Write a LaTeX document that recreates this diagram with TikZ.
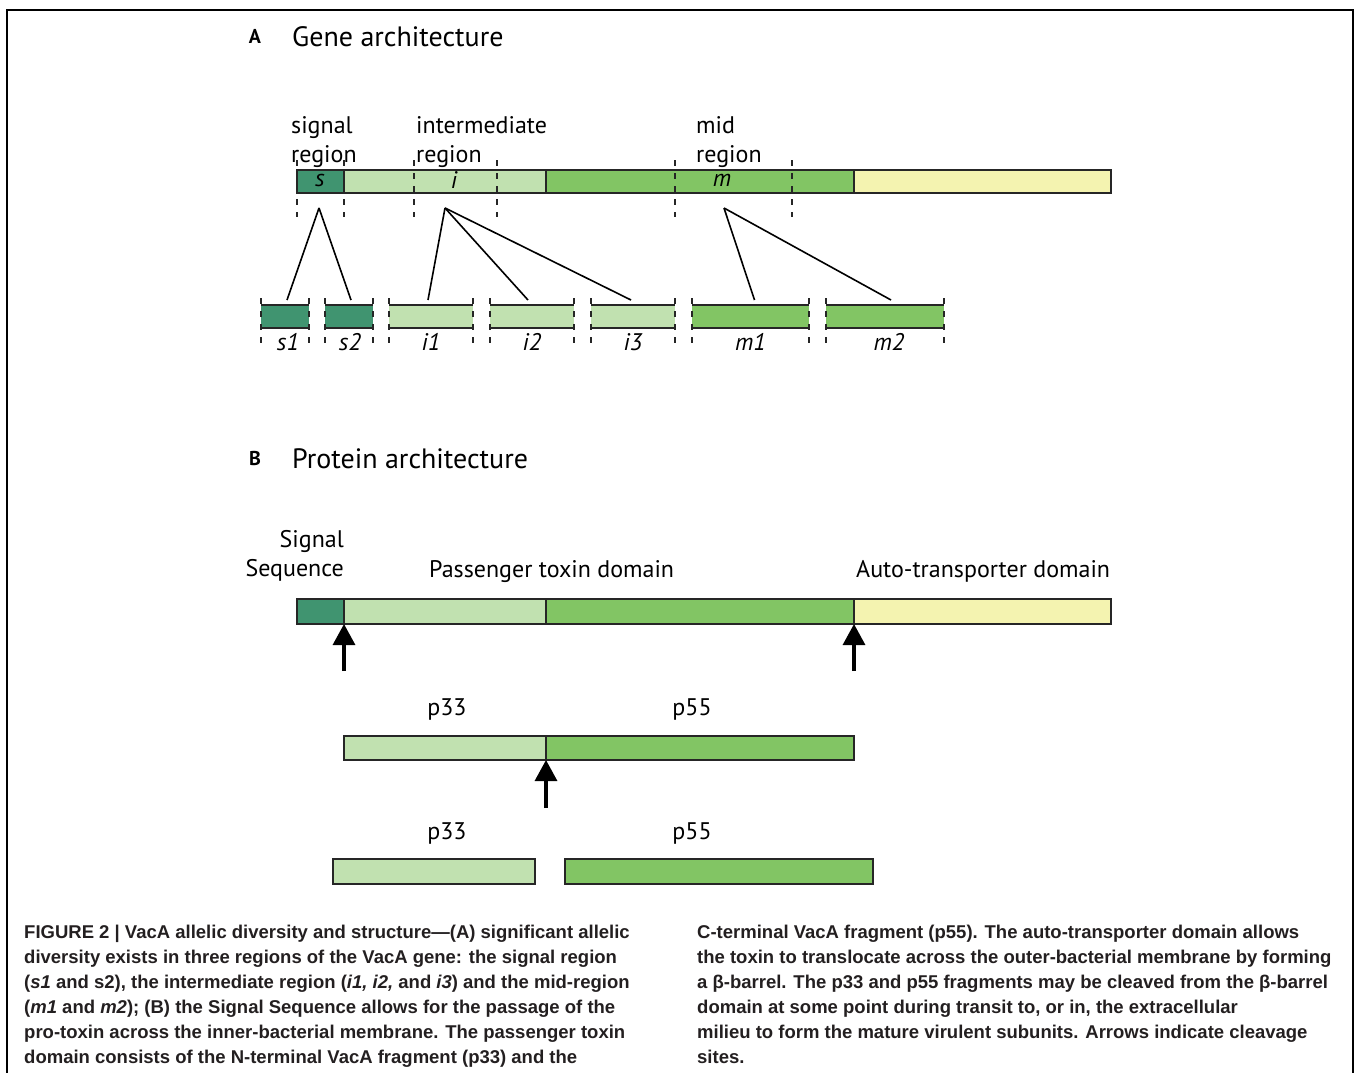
\documentclass[tikz,border=0pt]{standalone}
\usepackage{fontspec}
\setmainfont{PT Sans}
\newfontfamily\capfont{Liberation Sans}
\usetikzlibrary{arrows.meta,positioning}
\definecolor{sigcol}{HTML}{409470}
\definecolor{intcol}{HTML}{C1E1B0}
\definecolor{midcol}{HTML}{82C564}
\definecolor{autcol}{HTML}{F4F3B0}
\definecolor{capcol}{HTML}{231F20}

\begin{document}
\begin{tikzpicture}
		[x=1pt,y=-1pt,
		 bar/.style    = {draw=black!85, line width=1.6pt, shape=rectangle, minimum height=23pt, inner sep=0pt, outer sep=0pt},
		 allele/.style = {shape=rectangle, minimum height=23pt, inner sep=0pt, outer sep=0pt, anchor=west},
		 rim/.style    = {draw=black!85, line width=1.6pt},
		 cutline/.style= {draw=black!85, line width=1.6pt, dash pattern=on 6pt off 7pt},
		 fan/.style    = {draw=black, line width=1.6pt},
		 cleave/.style = {-{Triangle[width=22pt,length=21pt]}, line width=3.2pt},
		 head/.style   = {font=\fontsize{28}{32}\selectfont, inner sep=0pt},
		 tag/.style    = {font=\fontsize{20}{24}\selectfont\bfseries, inner sep=0pt},
		 lbl/.style    = {font=\fontsize{24}{29}\selectfont, inner sep=0pt, align=left},
		 glab/.style   = {font=\fontsize{24}{28}\selectfont\itshape, inner sep=0pt},
		 captxt/.style = {font=\capfont\bfseries\fontsize{18.5}{25}\selectfont, text=capcol, inner sep=0pt, align=left},
		]

	\useasboundingbox (0,0) rectangle (1356,1072);
	\draw[line width=1.6pt] (7,1080) -- (7,10) -- (1353,10) -- (1353,1080);

	% A: gene
	\node[tag]  (ta) at (255,36) {A};
	\node[head, anchor=west] (gene) at (292,37) {Gene architecture};

	\node[lbl, anchor=north west] (sigreg) at (291,116) {signal\\region};
	\node[lbl, anchor=north west] (intreg) at (416,116) {intermediate\\region};
	\node[lbl, anchor=north west] (midreg) at (696,116) {mid\\region};

	\node [bar, fill=sigcol, minimum width=47pt, anchor=west] (gs) at (297,181.5) {};
	\node [bar, fill=intcol, minimum width=202pt, right=0pt of gs] (gi) {};
	\node [bar, fill=midcol, minimum width=308pt, right=0pt of gi] (gm) {};
	\node [bar, fill=autcol, minimum width=257pt, right=0pt of gm] (ga) {};

	\draw[cutline] (297,160) -- (297,217);
	\draw[cutline] (344,160) -- (344,217);
	\draw[cutline] (414,160) -- (414,217);
	\draw[cutline] (497,160) -- (497,217);
	\draw[cutline] (675,160) -- (675,217);
	\draw[cutline] (792,160) -- (792,217);

	\node[glab] (ls) at (320,180) {s};
	\node[glab] (li) at (454,180) {i};
	\node[glab] (lm) at (722,180) {m};

	% alleles
	\node [allele, fill=sigcol, minimum width=48pt]  (s1) at (261,316.5) {};
	\node [allele, fill=sigcol, minimum width=48pt]  (s2) at (325,316.5) {};
	\node [allele, fill=intcol, minimum width=84pt]  (i1) at (389,316.5) {};
	\node [allele, fill=intcol, minimum width=84pt]  (i2) at (490,316.5) {};
	\node [allele, fill=intcol, minimum width=84pt]  (i3) at (591,316.5) {};
	\node [allele, fill=midcol, minimum width=117pt] (m1) at (692,316.5) {};
	\node [allele, fill=midcol, minimum width=118pt] (m2) at (826,316.5) {};

	\draw[rim] (s1.north west) -- (s1.north east) (s1.south west) -- (s1.south east);
	\draw[rim] (s2.north west) -- (s2.north east) (s2.south west) -- (s2.south east);
	\draw[rim] (i1.north west) -- (i1.north east) (i1.south west) -- (i1.south east);
	\draw[rim] (i2.north west) -- (i2.north east) (i2.south west) -- (i2.south east);
	\draw[rim] (i3.north west) -- (i3.north east) (i3.south west) -- (i3.south east);
	\draw[rim] (m1.north west) -- (m1.north east) (m1.south west) -- (m1.south east);
	\draw[rim] (m2.north west) -- (m2.north east) (m2.south west) -- (m2.south east);

	\draw[cutline] ([yshift=7pt]s1.north west) -- ([yshift=-16pt]s1.south west);
	\draw[cutline] ([yshift=7pt]s1.north east) -- ([yshift=-16pt]s1.south east);
	\draw[cutline] ([yshift=7pt]s2.north west) -- ([yshift=-16pt]s2.south west);
	\draw[cutline] ([yshift=7pt]s2.north east) -- ([yshift=-16pt]s2.south east);
	\draw[cutline] ([yshift=7pt]i1.north west) -- ([yshift=-16pt]i1.south west);
	\draw[cutline] ([yshift=7pt]i1.north east) -- ([yshift=-16pt]i1.south east);
	\draw[cutline] ([yshift=7pt]i2.north west) -- ([yshift=-16pt]i2.south west);
	\draw[cutline] ([yshift=7pt]i2.north east) -- ([yshift=-16pt]i2.south east);
	\draw[cutline] ([yshift=7pt]i3.north west) -- ([yshift=-16pt]i3.south west);
	\draw[cutline] ([yshift=7pt]i3.north east) -- ([yshift=-16pt]i3.south east);
	\draw[cutline] ([yshift=7pt]m1.north west) -- ([yshift=-16pt]m1.south west);
	\draw[cutline] ([yshift=7pt]m1.north east) -- ([yshift=-16pt]m1.south east);
	\draw[cutline] ([yshift=7pt]m2.north west) -- ([yshift=-16pt]m2.south west);
	\draw[cutline] ([yshift=7pt]m2.north east) -- ([yshift=-16pt]m2.south east);

	\node[glab, below=5pt of s1, xshift=3pt] (ls1) {s1};
	\node[glab, below=5pt of s2, xshift=1pt] (ls2) {s2};
	\node[glab, below=5pt of i1] (li1) {i1};
	\node[glab, below=5pt of i2] (li2) {i2};
	\node[glab, below=5pt of i3] (li3) {i3};
	\node[glab, below=5pt of m1] (lm1) {m1};
	\node[glab, below=5pt of m2, xshift=4pt] (lm2) {m2};

	\coordinate (sapex) at (319,208);
	\coordinate (iapex) at (445,208);
	\coordinate (mapex) at (724,208);
	\draw[fan] (sapex) -- ([xshift=2pt,yshift=5pt]s1.north);
	\draw[fan] (sapex) -- ([xshift=2pt,yshift=5pt]s2.north);
	\draw[fan] (iapex) -- ([xshift=-3pt,yshift=5pt]i1.north);
	\draw[fan] (iapex) -- ([xshift=-4pt,yshift=5pt]i2.north);
	\draw[fan] (iapex) -- ([xshift=-2pt,yshift=5pt]i3.north);
	\draw[fan] (mapex) -- ([xshift=4pt,yshift=5pt]m1.north);
	\draw[fan] (mapex) -- ([xshift=6pt,yshift=5pt]m2.north);

	% B: protein
	\node[tag]  (tb) at (255,458) {B};
	\node[head, anchor=west] (prot) at (292,459) {Protein architecture};

	\node[lbl, align=right, anchor=north east] (sigseq) at (344,530) {Signal\\Sequence};
	\node[lbl, anchor=base west] (passdom) at (429,577) {Passenger toxin domain};
	\node[lbl, anchor=base west] (autodom) at (856,577) {Auto-transporter domain};

	\node [bar, fill=sigcol, minimum width=47pt, anchor=west, minimum height=25pt] (ps) at (297,611.5) {};
	\node [bar, fill=intcol, minimum width=202pt, minimum height=25pt, right=0pt of ps] (pi) {};
	\node [bar, fill=midcol, minimum width=308pt, minimum height=25pt, right=0pt of pi] (pm) {};
	\node [bar, fill=autcol, minimum width=257pt, minimum height=25pt, right=0pt of pm] (pa) {};

	\coordinate (cut1) at ([yshift=-47pt]ps.south east);
	\coordinate (cut2) at ([yshift=-47pt]pm.south east);
	\draw[cleave] (cut1) -- (ps.south east);
	\draw[cleave] (cut2) -- (pm.south east);

	\node[lbl, anchor=base] (p33a) at (447,715) {p33};
	\node[lbl, anchor=base] (p55a) at (692,715) {p55};

	\node [bar, fill=intcol, minimum width=202pt, anchor=west, minimum height=24pt] (qi) at (344,748) {};
	\node [bar, fill=midcol, minimum width=308pt, minimum height=24pt, right=0pt of qi] (qm) {};

	\coordinate (cut3) at ([yshift=-48pt]qi.south east);
	\draw[cleave] (cut3) -- (qi.south east);

	\node[lbl, anchor=base] (p33b) at (447,839) {p33};
	\node[lbl, anchor=base] (p55b) at (692,839) {p55};

	\node [bar, fill=intcol, minimum width=202pt, anchor=west, minimum height=25pt] (ri) at (333,871.5) {};
	\node [bar, fill=midcol, minimum width=308pt, anchor=west, minimum height=25pt] (rm) at (565,871.5) {};

	% caption
	\node[captxt, anchor=north west] (capl) at (24,925) {FIGURE 2 | VacA allelic diversity and structure—(A) significant allelic\\
		diversity exists in three regions of the VacA gene: the signal region\\
		(\textit{s1} and s2), the intermediate region (\textit{i1, i2,} and \textit{i3}) and the mid-region\\
		(\textit{m1} and \textit{m2}); (B) the Signal Sequence allows for the passage of the\\
		pro-toxin across the inner-bacterial membrane. The passenger toxin\\
		domain consists of the N-terminal VacA fragment (p33) and the};
	\node[captxt, anchor=north west] (capr) at (697,925) {C-terminal VacA fragment (p55). The auto-transporter domain allows\\
		the toxin to translocate across the outer-bacterial membrane by forming\\
		a β-barrel. The p33 and p55 fragments may be cleaved from the β-barrel\\
		domain at some point during transit to, or in, the extracellular\\
		milieu to form the mature virulent subunits. Arrows indicate cleavage\\
		sites.};

\end{tikzpicture}
\end{document}
